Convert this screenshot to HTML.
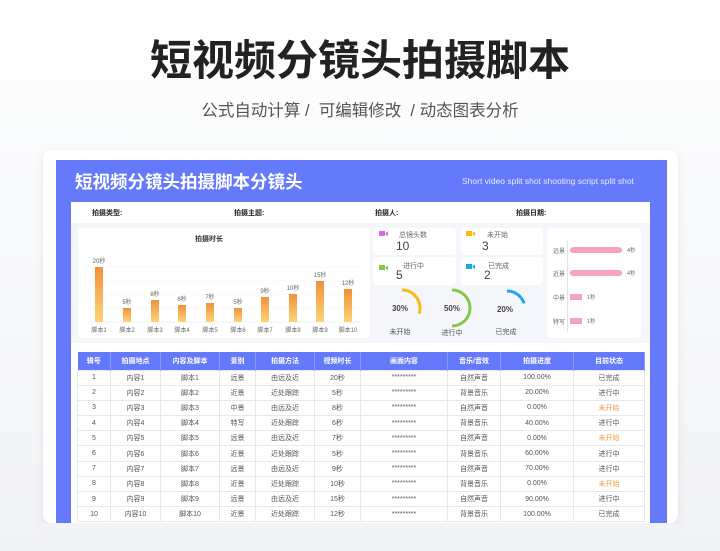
<!DOCTYPE html>
<html><head><meta charset="utf-8"><style>
*{margin:0;padding:0;box-sizing:border-box}
body{width:720px;height:551px;overflow:hidden;background:linear-gradient(#fff 0,#fafbfc 140px,#f2f3f6 551px);font-family:"Liberation Sans","Noto Sans CJK SC",sans-serif;position:relative}
.a{position:absolute}
.t{white-space:nowrap}
table{border-collapse:collapse;position:absolute;left:77px;top:352px;width:567px;font-size:7px;color:#555;table-layout:fixed}
th{background:#6579fb;color:#fff;font-weight:bold;height:18px;border-right:1px solid #8a9bff}
td{height:15.2px;text-align:center;border:1px solid #e6e8ee;background:#fff}
.o{color:#f39a4a}
.card{position:absolute;background:#fff;border-radius:4px}
.lbl{font-size:7px;color:#666}
</style></head><body>
<div class="a t" style="left:0;width:720px;top:36px;text-align:center;font-size:42px;font-weight:bold;color:#222;line-height:50px">短视频分镜头拍摄脚本</div>
<div class="a t" style="left:0;width:720px;top:100px;text-align:center;font-size:16.5px;color:#555;line-height:22px">公式自动计算 / &nbsp;可编辑修改 &nbsp;/ 动态图表分析</div>
<div class="a" style="left:43px;top:150px;width:635px;height:373px;background:#fff;border-radius:8px;box-shadow:0 3px 10px rgba(0,0,0,.08)"></div>
<div class="a" style="left:56px;top:160px;width:611px;height:363px;background:#6579fb"></div>
<div class="a t" style="left:75px;top:171px;font-size:17.5px;font-weight:bold;color:#fff;line-height:22px">短视频分镜头拍摄脚本分镜头</div>
<div class="a t" style="left:462px;top:176px;font-size:8.5px;color:#e8ecff">Short video split shot shooting script split shot</div>
<div class="a" style="left:71px;top:202px;width:579px;height:321px;background:#f4f6fb"></div>
<div class="a" style="left:71px;top:202px;width:579px;height:21px;background:#fff"></div>
<div class="a t" style="left:92px;top:208px;font-size:7px;font-weight:bold;color:#222">拍摄类型:</div>
<div class="a t" style="left:234px;top:208px;font-size:7px;font-weight:bold;color:#222">拍摄主题:</div>
<div class="a t" style="left:375px;top:208px;font-size:7px;font-weight:bold;color:#222">拍摄人:</div>
<div class="a t" style="left:516px;top:208px;font-size:7px;font-weight:bold;color:#222">拍摄日期:</div>
<div class="a" style="left:71px;top:343px;width:579px;height:180px;background:#fff"></div>

<div class="card" style="left:78px;top:228px;width:292px;height:110px"></div>
<div class="a t" style="left:195px;top:234px;font-size:7px;font-weight:bold;color:#333">拍摄时长</div>
<svg class="a" style="left:0;top:0" width="720" height="551">
<defs><linearGradient id="g" x1="0" y1="0" x2="0" y2="1"><stop offset="0" stop-color="#f0913a"/><stop offset="1" stop-color="#fdd47a"/></linearGradient></defs>
<g stroke="#f0f1f4" stroke-width="0.6"><line x1="88" x2="360" y1="267" y2="267"/><line x1="88" x2="360" y1="281" y2="281"/><line x1="88" x2="360" y1="294" y2="294"/><line x1="88" x2="360" y1="308" y2="308"/><line x1="88" x2="360" y1="322" y2="322" stroke="#e0e2e8"/></g>
<g fill="url(#g)">
<rect x="95" y="267" width="8" height="55"/><rect x="123" y="308" width="8" height="14"/><rect x="151" y="300" width="8" height="22"/><rect x="178" y="305" width="8" height="17"/><rect x="206" y="303" width="8" height="19"/><rect x="234" y="308" width="8" height="14"/><rect x="261" y="297" width="8" height="25"/><rect x="289" y="294" width="8" height="28"/><rect x="316" y="281" width="8" height="41"/><rect x="344" y="289" width="8" height="33"/>
</g>
<g font-size="6" fill="#666" text-anchor="middle" font-family="Liberation Sans,Noto Sans CJK SC,sans-serif">
<text x="99" y="263">20秒</text><text x="127" y="304">5秒</text><text x="155" y="296">8秒</text><text x="182" y="301">6秒</text><text x="210" y="299">7秒</text><text x="238" y="304">5秒</text><text x="265" y="293">9秒</text><text x="293" y="290">10秒</text><text x="320" y="277">15秒</text><text x="348" y="285">12秒</text>
<text x="99" y="332">脚本1</text><text x="127" y="332">脚本2</text><text x="155" y="332">脚本3</text><text x="182" y="332">脚本4</text><text x="210" y="332">脚本5</text><text x="238" y="332">脚本6</text><text x="265" y="332">脚本7</text><text x="293" y="332">脚本8</text><text x="320" y="332">脚本9</text><text x="348" y="332">脚本10</text>
</g>
</svg>

<div class="card" style="left:373px;top:228px;width:83px;height:27px"></div>
<div class="card" style="left:461px;top:228px;width:82px;height:27px"></div>
<div class="card" style="left:373px;top:257px;width:83px;height:28px"></div>
<div class="card" style="left:461px;top:257px;width:82px;height:28px"></div>
<svg class="a" style="left:0;top:0" width="720" height="551">
<g><rect x="379" y="231" width="6" height="5" fill="#d56ee8"/><path d="M385 233.5l3-2v5z" fill="#d56ee8"/>
<rect x="466" y="231" width="6" height="5" fill="#f9b90f"/><path d="M472 233.5l3-2v5z" fill="#f9b90f"/>
<rect x="379" y="265" width="6" height="5" fill="#86c84a"/><path d="M385 267.5l3-2v5z" fill="#86c84a"/>
<rect x="466" y="264" width="6" height="5" fill="#1ba8e6"/><path d="M472 266.5l3-2v5z" fill="#1ba8e6"/></g>
<g fill="none" stroke-width="3">
<circle cx="402" cy="308" r="18" stroke="#f4f5f8"/><circle cx="452" cy="308" r="18" stroke="#f4f5f8"/><circle cx="507" cy="309" r="18" stroke="#f4f5f8"/>
<path d="M402 290 A18 18 0 0 1 419.1 313.6" stroke="#f9b90f"/>
<path d="M452 290 A18 18 0 0 1 452 326" stroke="#86c84a"/>
<path d="M507 291 A18 18 0 0 1 524.1 303.4" stroke="#1ba8e6"/>
</g>
<g font-size="8" font-weight="bold" fill="#444" text-anchor="middle" font-family="Liberation Sans,sans-serif">
<text x="400" y="311">30%</text><text x="452" y="311">50%</text><text x="505" y="312">20%</text></g>
<g font-size="7" fill="#555" text-anchor="middle" font-family="Liberation Sans,Noto Sans CJK SC,sans-serif">
<text x="400" y="334">未开始</text><text x="452" y="335">进行中</text><text x="506" y="334">已完成</text></g>
</svg>
<div class="a t lbl" style="left:399px;top:230px">总镜头数</div>
<div class="a t" style="left:396px;top:239px;font-size:12px;color:#444">10</div>
<div class="a t lbl" style="left:487px;top:230px">未开始</div>
<div class="a t" style="left:482px;top:239px;font-size:12px;color:#444">3</div>
<div class="a t lbl" style="left:403px;top:261px">进行中</div>
<div class="a t" style="left:396px;top:268px;font-size:12px;color:#444">5</div>
<div class="a t lbl" style="left:488px;top:261px">已完成</div>
<div class="a t" style="left:484px;top:268px;font-size:12px;color:#444">2</div>

<div class="card" style="left:547px;top:228px;width:94px;height:110px"></div>
<div class="a" style="left:567px;top:240px;width:0.6px;height:92px;background:#e3e4e8"></div>
<div class="a t" style="left:553px;top:246px;font-size:6px;color:#666">远景</div>
<div class="a" style="left:570px;top:247px;width:52px;height:6px;background:#f6a3c1;border-radius:3px"></div>
<div class="a t" style="left:627px;top:246px;font-size:5.5px;color:#666">4秒</div>
<div class="a t" style="left:553px;top:269px;font-size:6px;color:#666">近景</div>
<div class="a" style="left:570px;top:270px;width:52px;height:6px;background:#f6a3c1;border-radius:3px"></div>
<div class="a t" style="left:627px;top:269px;font-size:5.5px;color:#666">4秒</div>
<div class="a t" style="left:553px;top:293px;font-size:6px;color:#666">中景</div>
<div class="a" style="left:570px;top:294px;width:12px;height:6px;background:#f6a3c1"></div>
<div class="a t" style="left:587px;top:293px;font-size:5.5px;color:#666">1秒</div>
<div class="a t" style="left:553px;top:317px;font-size:6px;color:#666">特写</div>
<div class="a" style="left:570px;top:318px;width:12px;height:6px;background:#f6a3c1"></div>
<div class="a t" style="left:587px;top:317px;font-size:5.5px;color:#666">1秒</div>

<table>
<colgroup><col style="width:33px"><col style="width:50px"><col style="width:59px"><col style="width:36px"><col style="width:59px"><col style="width:46px"><col style="width:87px"><col style="width:53px"><col style="width:73px"><col style="width:71px"></colgroup>
<tr><th>辑号</th><th>拍摄地点</th><th>内容及脚本</th><th>景别</th><th>拍摄方法</th><th>视频时长</th><th>画面内容</th><th>音乐/音效</th><th>拍摄进度</th><th>目前状态</th></tr>
<tr><td>1</td><td>内容1</td><td>脚本1</td><td>远景</td><td>由远及近</td><td>20秒</td><td>*********</td><td>自然声音</td><td>100.00%</td><td>已完成</td></tr>
<tr><td>2</td><td>内容2</td><td>脚本2</td><td>近景</td><td>近处跟踪</td><td>5秒</td><td>*********</td><td>背景音乐</td><td>20.00%</td><td>进行中</td></tr>
<tr><td>3</td><td>内容3</td><td>脚本3</td><td>中景</td><td>由远及近</td><td>8秒</td><td>*********</td><td>自然声音</td><td>0.00%</td><td class="o">未开始</td></tr>
<tr><td>4</td><td>内容4</td><td>脚本4</td><td>特写</td><td>近处跟踪</td><td>6秒</td><td>*********</td><td>背景音乐</td><td>40.00%</td><td>进行中</td></tr>
<tr><td>5</td><td>内容5</td><td>脚本5</td><td>远景</td><td>由远及近</td><td>7秒</td><td>*********</td><td>自然声音</td><td>0.00%</td><td class="o">未开始</td></tr>
<tr><td>6</td><td>内容6</td><td>脚本6</td><td>近景</td><td>近处跟踪</td><td>5秒</td><td>*********</td><td>背景音乐</td><td>60.00%</td><td>进行中</td></tr>
<tr><td>7</td><td>内容7</td><td>脚本7</td><td>远景</td><td>由远及近</td><td>9秒</td><td>*********</td><td>自然声音</td><td>70.00%</td><td>进行中</td></tr>
<tr><td>8</td><td>内容8</td><td>脚本8</td><td>近景</td><td>近处跟踪</td><td>10秒</td><td>*********</td><td>背景音乐</td><td>0.00%</td><td class="o">未开始</td></tr>
<tr><td>9</td><td>内容9</td><td>脚本9</td><td>远景</td><td>由远及近</td><td>15秒</td><td>*********</td><td>自然声音</td><td>90.00%</td><td>进行中</td></tr>
<tr><td>10</td><td>内容10</td><td>脚本10</td><td>近景</td><td>近处跟踪</td><td>12秒</td><td>*********</td><td>背景音乐</td><td>100.00%</td><td>已完成</td></tr>
</table>
<div class="a" style="left:43px;top:523px;width:635px;height:28px;background:#f2f3f6"></div>
</body></html>
